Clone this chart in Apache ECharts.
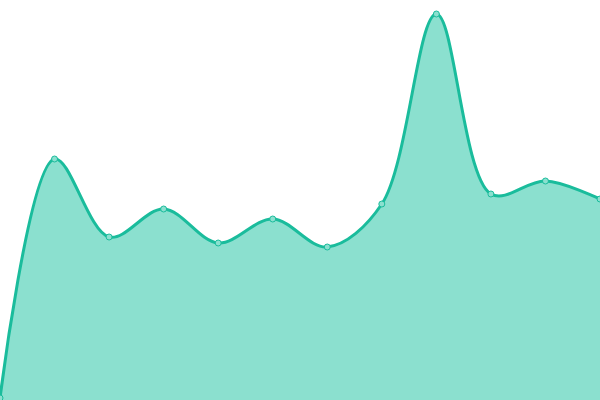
<!DOCTYPE html>
<html>
<head>
<meta charset="utf-8">
<script src="https://cdn.jsdelivr.net/npm/echarts@6/dist/echarts.min.js"></script>
<style>
  html, body { margin: 0; padding: 0; background: #fff; }
  #main { width: 600px; height: 400px; }
</style>
</head>
<body>
<div id="main"></div>
<script>
  // data
  var categories = ['1', '2', '3', '4', '5', '6', '7', '8', '9', '10', '11', '12'];
  var values = [2, 241, 163, 191, 157, 181, 153, 196, 386, 206, 219, 201];

  var myChart = echarts.init(document.getElementById('main'));

  function dist(a, b) {
    var dx = a[0] - b[0], dy = a[1] - b[1];
    return Math.sqrt(dx * dx + dy * dy);
  }

  // centripetal catmull-rom curve through the pixel points
  function curvePath(pts, alpha) {
    var d = 'M' + pts[0][0] + ',' + pts[0][1];
    for (var i = 0; i < pts.length - 1; i++) {
      var p0 = pts[i - 1], p1 = pts[i], p2 = pts[i + 1], p3 = pts[i + 2];
      var l12 = Math.pow(dist(p1, p2), alpha);
      var c1 = [p1[0], p1[1]], c2 = [p2[0], p2[1]];
      if (p0) {
        var l01 = Math.pow(dist(p0, p1), alpha);
        var a = 2 * l01 * l01 + 3 * l01 * l12 + l12 * l12;
        var n = 3 * l01 * (l01 + l12);
        c1 = [(p1[0] * a - p0[0] * l12 * l12 + p2[0] * l01 * l01) / n,
              (p1[1] * a - p0[1] * l12 * l12 + p2[1] * l01 * l01) / n];
      }
      if (p3) {
        var l23 = Math.pow(dist(p2, p3), alpha);
        var b = 2 * l23 * l23 + 3 * l23 * l12 + l12 * l12;
        var m = 3 * l23 * (l23 + l12);
        c2 = [(p2[0] * b + p1[0] * l23 * l23 - p3[0] * l12 * l12) / m,
              (p2[1] * b + p1[1] * l23 * l23 - p3[1] * l12 * l12) / m];
      }
      d += ' C' + c1[0] + ',' + c1[1] + ' ' + c2[0] + ',' + c2[1] + ' ' + p2[0] + ',' + p2[1];
    }
    return d;
  }

  var option = {
    animation: false,
    grid: { left: 0, right: 0, top: 0, bottom: 0 },
    xAxis: {
      type: 'category',
      boundaryGap: false,
      data: categories,
      show: false
    },
    yAxis: {
      type: 'value',
      min: 0,
      max: 400,
      show: false
    },
    series: [{
      type: 'custom',
      data: values.map(function (v, i) { return [i, v]; }),
      z: 1,
      renderItem: function (params, api) {
        if (params.dataIndex !== 0) return null;
        var pts = values.map(function (v, i) { return api.coord([i, v]); });
        var base = api.coord([0, 0])[1];
        var line = curvePath(pts, 0.5);
        var last = pts[pts.length - 1];
        var area = line + ' L' + last[0] + ',' + base + ' L' + pts[0][0] + ',' + base + ' Z';
        return {
          type: 'group',
          children: [{
            type: 'path',
            shape: { pathData: area },
            style: { fill: '#8be0cf', stroke: null }
          }, {
            type: 'path',
            shape: { pathData: line },
            style: { fill: null, stroke: '#1abc9c', lineWidth: 3 }
          }]
        };
      }
    }, {
      type: 'line',
      data: values,
      z: 3,
      symbol: 'circle',
      symbolSize: 6,
      itemStyle: {
        color: '#8be0cf',
        borderColor: '#1abc9c',
        borderWidth: 1
      },
      lineStyle: { opacity: 0 }
    }]
  };

  myChart.setOption(option);
</script>
</body>
</html>
